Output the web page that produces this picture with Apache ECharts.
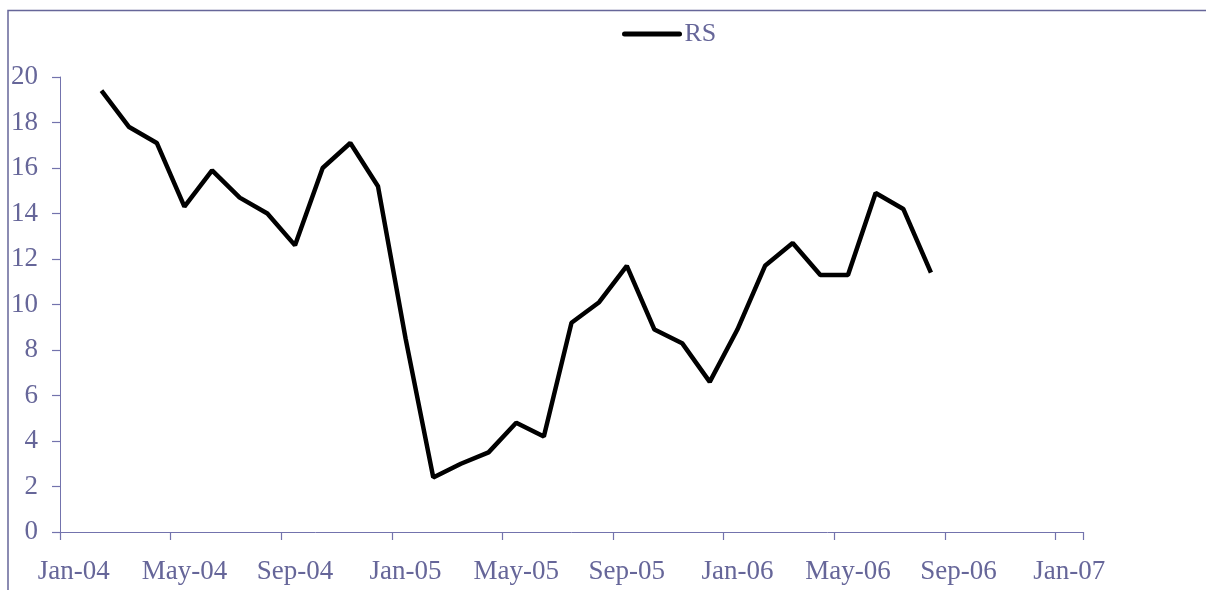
<!DOCTYPE html>
<html>
<head>
<meta charset="utf-8">
<title>RS</title>
<script src="https://cdn.jsdelivr.net/npm/echarts@6/dist/echarts.min.js"></script>
<style>
    html, body { margin: 0; padding: 0; background: #fff; }
    #chart { width: 1206px; height: 590px; }
</style>
</head>
<body>
<div id="chart"></div>
<script>
// 月份类目（Jan-04 ~ Jan-07）
const months = [
    'Jan-04', 'Feb-04', 'Mar-04', 'Apr-04', 'May-04', 'Jun-04', 'Jul-04', 'Aug-04', 'Sep-04', 'Oct-04', 'Nov-04', 'Dec-04',
    'Jan-05', 'Feb-05', 'Mar-05', 'Apr-05', 'May-05', 'Jun-05', 'Jul-05', 'Aug-05', 'Sep-05', 'Oct-05', 'Nov-05', 'Dec-05',
    'Jan-06', 'Feb-06', 'Mar-06', 'Apr-06', 'May-06', 'Jun-06', 'Jul-06', 'Aug-06', 'Sep-06', 'Oct-06', 'Nov-06', 'Dec-06',
    'Jan-07'
]

// RS 数值（Feb-04 ~ Aug-06）
const rsValues = [
    null,
    19.4, 17.8, 17.1, 14.3, 15.9, 14.7, 14.0, 12.6, 16.0, 17.1, 15.2,
    8.5, 2.4, 3.0, 3.5, 4.8, 4.2, 9.2, 10.1, 11.7, 8.9, 8.3, 6.6,
    8.9, 11.7, 12.7, 11.3, 11.3, 14.9, 14.2, 11.4,
    null, null, null, null, null
]

// y 轴刻度
const yTicks = [0, 2, 4, 6, 8, 10, 12, 14, 16, 18, 20]

const textColor = '#666699'
const axisColor = '#7373ad'
const fontFamily = '"Liberation Serif", "Times New Roman", serif'

const option = {
    animation: false,
    // 外框
    graphic: [
        {
            type: 'rect',
            shape: { x: 8, y: 10.5, width: 1400, height: 800 },
            style: { fill: 'none', stroke: textColor, lineWidth: 1.5 },
            silent: true
        }
    ],
    legend: {
        left: 622,
        top: 21,
        padding: 0,
        itemWidth: 55,
        itemHeight: 14,
        // 图例只显示线条，不显示圆点
        itemStyle: { opacity: 0 },
        lineStyle: { color: '#000', width: 5, cap: 'round' },
        textStyle: {
            color: textColor,
            fontSize: 26,
            fontFamily: fontFamily
        },
        data: ['RS']
    },
    grid: {
        left: 60,
        right: 123,
        top: 77,
        bottom: 58,
        containLabel: false
    },
    xAxis: {
        type: 'category',
        data: months,
        boundaryGap: true,
        axisLine: { show: true, lineStyle: { color: axisColor, width: 1 } },
        axisTick: {
            show: true,
            inside: false,
            interval: 3,
            length: 8,
            lineStyle: { color: axisColor, width: 1.2 }
        },
        axisLabel: {
            interval: 3,
            margin: 26,
            color: textColor,
            fontSize: 27,
            fontFamily: fontFamily
        },
        splitLine: { show: false }
    },
    yAxis: {
        type: 'value',
        min: yTicks[0],
        max: yTicks[yTicks.length - 1],
        interval: 2,
        axisLine: { show: true, lineStyle: { color: axisColor, width: 1 } },
        axisTick: {
            show: true,
            inside: false,
            length: 8,
            lineStyle: { color: axisColor, width: 1.2 }
        },
        axisLabel: {
            margin: 22,
            color: textColor,
            fontSize: 27,
            fontFamily: fontFamily
        },
        splitLine: { show: false }
    },
    series: [
        {
            name: 'RS',
            type: 'line',
            data: rsValues,
            symbol: 'none',
            connectNulls: false,
            lineStyle: { color: '#000', width: 4.5 },
            itemStyle: { color: '#000' }
        }
    ]
}

const chart = echarts.init(document.getElementById('chart'))
chart.setOption(option)
window.addEventListener('resize', () => chart.resize())
</script>
</body>
</html>
